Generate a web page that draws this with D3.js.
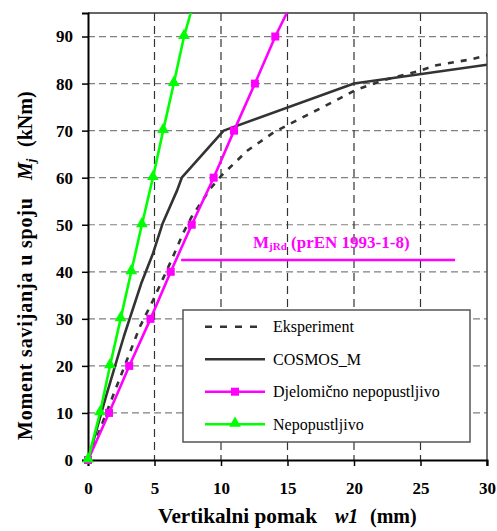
<!DOCTYPE html>
<html><head><meta charset="utf-8">
<script src="https://cdn.jsdelivr.net/npm/d3@7"></script>
<style>
body{margin:0;background:#fff;}
svg{display:block;}
svg text{font-family:'Liberation Serif','Times New Roman',Tinos,'DejaVu Serif',serif;}
</style></head>
<body>
<script>
// ---- data ----
const xTicks = [0,5,10,15,20,25,30];
const yTicks = [0,10,20,30,40,50,60,70,80,90];

const eksperimentX = [0,3.9,4.9,6.2,7.2,7.8,9.2,10.05,12.0,14.0,16.4,18.9,20.1,22.2,24.8,26.2,28.7,30];
const eksperimentM = [0,28.3,34,42,48.5,51.7,57.7,60.5,65.8,69.7,73.2,76.8,78.6,80.7,82.6,83.9,85.1,86];

const cosmosX = [0,1.3,2.7,4.0,4.9,5.6,6.7,7.05,10.2,20,30];
const cosmosM = [0,13,26.3,37.5,44,50.2,57.3,60,70,80,84];

const djelomicnoX = [0,1.58,3.1,4.7,6.22,7.8,9.45,10.98,12.55,14.08,14.95];
const djelomicnoM = [0,10,20,30,40,50,60,70,80,90,95];

const nepopustljivoX = [0,0.9,1.65,2.45,3.25,4.05,4.88,5.65,6.45,7.22,7.72];
const nepopustljivoM = [0,10,20,30,40,50,60,70,80,90,95];
const markerCount = 10; // markers on points M = 0..90

const mjRdValue = 42.5;
const mjRdFrom = 7.0, mjRdTo = 27.6;

const legendLabels = ["Eksperiment","COSMOS_M","Djelomično nepopustljivo","Nepopustljivo"];

// ---- drawing ----
const FONT = "'Liberation Serif','Times New Roman',Tinos,'DejaVu Serif',serif";
const W = 497, H = 531;
const svg = d3.select("body").append("svg").attr("width",W).attr("height",H)
  .style("font-family",FONT);
const x = d3.scaleLinear().domain([0,30]).range([88,487]);
const y = d3.scaleLinear().domain([0,95]).range([460,13]);

const zip = (xs,ms) => xs.map((v,i)=>[v,ms[i]]);

svg.append("defs").append("clipPath").attr("id","clip")
  .append("rect").attr("x",x(0)).attr("y",y(95)).attr("width",x(30)-x(0)).attr("height",y(0)-y(95));

// grid
const g = svg.append("g");
g.selectAll(".hg").data(yTicks.filter(d=>d>0)).join("line")
  .attr("x1",x(0)).attr("x2",x(30)).attr("y1",d=>y(d)).attr("y2",d=>y(d))
  .attr("stroke","#808080").attr("stroke-width",1.2).attr("stroke-dasharray","7,4");
g.selectAll(".vg").data(xTicks.filter(d=>d>0&&d<30)).join("line")
  .attr("x1",d=>x(d)).attr("x2",d=>x(d)).attr("y1",y(95)).attr("y2",y(0))
  .attr("stroke","#333").attr("stroke-width",1.2).attr("stroke-dasharray","8,5");

// frame top/right
svg.append("line").attr("x1",x(0)).attr("x2",x(30)).attr("y1",y(95)).attr("y2",y(95))
  .attr("stroke","#333").attr("stroke-width",1.5);
svg.append("line").attr("x1",x(30)).attr("x2",x(30)).attr("y1",y(95)).attr("y2",y(0)+6)
  .attr("stroke","#444").attr("stroke-width",1.5);

// axes
const xAxis = svg.append("g").attr("transform",`translate(0,${y(0)})`)
  .call(d3.axisBottom(x).tickValues(xTicks).tickSize(6).tickPadding(16));
const yAxis = svg.append("g").attr("transform",`translate(${x(0)},0)`)
  .call(d3.axisLeft(y).tickValues(yTicks).tickSize(6).tickPadding(9));
[xAxis,yAxis].forEach(a=>{
  a.attr("font-family",FONT);
  a.select(".domain").attr("stroke","#000").attr("stroke-width",2);
  a.selectAll(".tick line").attr("stroke","#000").attr("stroke-width",1.5);
  a.selectAll(".tick text").style("font-family",FONT)
    .attr("font-weight","bold").attr("font-size",17).attr("fill","#000");
});

// legend box
const lg = svg.append("g");
lg.append("rect").attr("x",183).attr("y",310).attr("width",287).attr("height",132)
  .attr("fill","#fff").attr("stroke","#555").attr("stroke-width",1.5);

// series
const line = d3.line().x(d=>x(d[0])).y(d=>y(d[1]));
const plot = svg.append("g").attr("clip-path","url(#clip)");
plot.append("path").datum(zip(eksperimentX,eksperimentM)).attr("d",line)
  .attr("fill","none").attr("stroke","#333").attr("stroke-width",2.6).attr("stroke-dasharray","6,7");
plot.append("path").datum(zip(cosmosX,cosmosM)).attr("d",line)
  .attr("fill","none").attr("stroke","#333").attr("stroke-width",2.6).attr("stroke-linejoin","round");
const magData = zip(djelomicnoX,djelomicnoM);
plot.append("path").datum(magData).attr("d",line)
  .attr("fill","none").attr("stroke","#ff00ff").attr("stroke-width",2.6);
const grnData = zip(nepopustljivoX,nepopustljivoM);
plot.append("path").datum(grnData).attr("d",line)
  .attr("fill","none").attr("stroke","#00ff00").attr("stroke-width",2.6);

const sq = d3.symbol().type(d3.symbolSquare).size(64);
const tri = d3.symbol().type(d3.symbolTriangle).size(60);
svg.append("g").selectAll("path").data(magData.slice(0,markerCount)).join("path")
  .attr("d",sq).attr("transform",d=>`translate(${x(d[0])},${y(d[1])})`).attr("fill","#ff00ff");
svg.append("g").selectAll("path").data(grnData.slice(0,markerCount)).join("path")
  .attr("d",tri).attr("transform",d=>`translate(${x(d[0])},${y(d[1])-1})`).attr("fill","#00ff00");

// MjRd
svg.append("line").attr("x1",x(mjRdFrom)).attr("x2",x(mjRdTo)).attr("y1",y(mjRdValue)).attr("y2",y(mjRdValue))
  .attr("stroke","#ff00ff").attr("stroke-width",2.6);
const mt = svg.append("text").attr("x",253).attr("y",248).attr("fill","#ff00ff")
  .attr("font-weight","bold").attr("font-size",17);
mt.append("tspan").text("M");
mt.append("tspan").attr("font-size",11).attr("dy",2).text("jRd");
mt.append("tspan").attr("dy",-2).text(" (prEN 1993-1-8)");

// legend entries
const rows = [326.7,359.3,391.7,424.3];
const styles = [
  {c:"#333",dash:"7,8",m:null},
  {c:"#333",dash:null,m:null},
  {c:"#ff00ff",dash:null,m:"sq"},
  {c:"#00ff00",dash:null,m:"tri"}];
legendLabels.forEach((lab,i)=>{
  const ln = lg.append("line").attr("x1",205).attr("x2",265).attr("y1",rows[i]).attr("y2",rows[i])
    .attr("stroke",styles[i].c).attr("stroke-width",2.6);
  if(styles[i].dash) ln.attr("stroke-dasharray",styles[i].dash).attr("stroke-dashoffset",0);
  if(styles[i].m==="sq") lg.append("path").attr("d",sq).attr("transform",`translate(235,${rows[i]})`).attr("fill","#ff00ff");
  if(styles[i].m==="tri") lg.append("path").attr("d",tri).attr("transform",`translate(235,${rows[i]-1})`).attr("fill","#00ff00");
  lg.append("text").attr("x",273).attr("y",rows[i]).attr("dy","0.33em")
    .attr("font-size",16).attr("fill","#000").text(lab);
});

// axis titles
const xt = svg.append("text").attr("y",523).attr("font-weight","bold").attr("font-size",20).attr("fill","#000");
xt.append("tspan").attr("x",158).attr("textLength",159).attr("lengthAdjust","spacingAndGlyphs").text("Vertikalni pomak");
xt.append("tspan").attr("x",335).attr("font-style","italic").text("w1");
xt.append("tspan").attr("x",370).text("(mm)");

const yt = svg.append("g").attr("transform","translate(32,0) rotate(-90)");
yt.append("text").attr("x",-440).attr("y",0).attr("font-weight","bold").attr("font-size",20)
  .attr("textLength",242).attr("lengthAdjust","spacing").attr("fill","#000").text("Moment savijanja u spoju");
const mj = yt.append("text").attr("x",-180).attr("y",0).attr("font-weight","bold").attr("font-size",20)
  .attr("font-style","italic").attr("fill","#000");
mj.append("tspan").text("M");
mj.append("tspan").attr("font-size",13).attr("dy",3).text("j");
yt.append("text").attr("x",-147).attr("y",0).attr("font-weight","bold").attr("font-size",20)
  .attr("fill","#000").text("(kNm)");
</script>
</body></html>
